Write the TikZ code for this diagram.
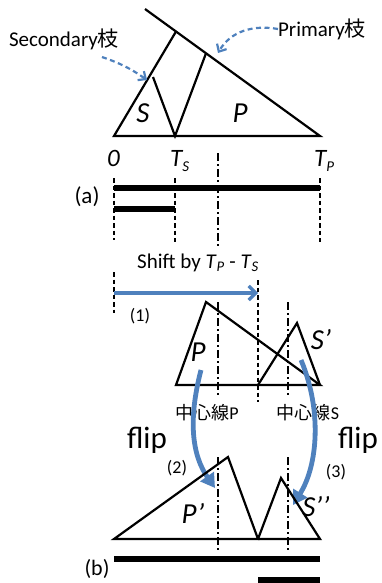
\documentclass[tikz,border=0pt]{standalone}
\usepackage{fontspec}
\setmainfont{Carlito}
\newfontfamily\jpfont{Noto Sans CJK JP}
\usetikzlibrary{positioning}
\usetikzlibrary{arrows.meta}
\definecolor{flipblue}{HTML}{4F81BD}
\tikzset{
  % outlines of the triangles
  tri/.style={draw=black, line width=2.2pt, line join=miter},
  % time bars
  bar/.style={draw=black, line width=6.5pt},
  % guide lines
  guide/.style={draw=black, line width=1.8pt, dash pattern=on 4.5pt off 3pt},
  centre/.style={draw=black, line width=1.8pt, dash pattern=on 8pt off 3pt on 2pt off 3pt},
  % blue arrows
  callout/.style={-{Straight Barb[length=6pt,width=11pt]}, draw=flipblue, line width=2.2pt,
    dash pattern=on 5pt off 3.5pt},
  shiftarrow/.style={-{Straight Barb[length=7pt,width=14pt]}, draw=flipblue, line width=3.2pt},
  fliparrow/.style={-{Triangle[length=14pt,width=16pt]}, draw=flipblue, line width=4.8pt},
  % text
  lbl/.style={font=\fontsize{21}{23}\selectfont, inner sep=0pt},
  big/.style={font=\fontsize{29}{31}\selectfont\itshape, inner sep=0pt},
  ax/.style={font=\fontsize{25}{26}\selectfont\itshape, inner sep=0pt, anchor=base west},
}
\newcommand{\tsub}[2]{#1\raisebox{-5pt}{\fontsize{15}{15}\selectfont #2}}

\begin{document}
\begin{tikzpicture}[x=1pt, y=-1pt]
  \useasboundingbox (0,0) rectangle (381,583);

  % (a) the tree before the shift
  \coordinate (o) at (114,136);
  \coordinate (ts) at (175,136);
  \coordinate (tp) at (320,136);
  \coordinate (top) at (145,9);
  \coordinate (lt) at (176,31.5);
  \coordinate (sa) at (153,77);
  \coordinate (pa) at (206,53.3);
  \draw[tri] (top) -- (tp) -- (o) -- (lt);
  \draw[tri] (sa) -- (ts) -- (pa);
  \node[big] (s) at (143,113) {S};
  \node[big] (p) at (240,113) {P};

  \node[lbl] (sec) at (64,39) {Secondary{\jpfont 枝}};
  \node[lbl] (pri) at (322,29) {Primary{\jpfont 枝}};
  \coordinate (sectip) at (147,80);
  \coordinate (pritip) at (218,53);
  \draw[callout] (102,57) to[bend left=8] (sectip);
  \draw[callout] (pri.west) to[out=170, in=60] (pritip);

  \node[ax] (t0) at (107,166) {0};
  \node[ax] (tsl) at (170,166) {\tsub{T}{S}};
  \node[ax] (tpl) at (314,166) {\tsub{T}{P}};
  \node[lbl, font=\fontsize{23}{25}\selectfont] (a) at (87,197) {(a)};

  \draw[guide] (114,178) -- (114,240);
  \draw[guide] (175,178) -- (175,242);
  \draw[guide] (320,178) -- (320,242);
  \draw[centre] (218,153) -- (218,247);
  \draw[bar] (114,188) -- (320,188);
  \draw[bar] (114,209) -- (175,209);

  % the shift
  \node[lbl] (shifttxt) at (198,263) {Shift by \textit{T}\textsubscript{\textit{P}} - \textit{T}\textsubscript{\textit{S}}};
  \draw[guide] (114,272) -- (114,313);
  \draw[guide] (258,280) -- (258,402);
  \draw[shiftarrow] (114,293) -- (258,293);
  \node[lbl, font=\fontsize{18}{20}\selectfont] (one) at (140,316) {(1)};

  % P and S' after the shift
  \draw[tri] (176,385) -- (206,302) -- (320,385) -- cycle;
  \draw[tri] (258,385) -- (297,323) -- (320,385);
  \draw[centre] (218,302) -- (218,397);
  \draw[centre] (288,302) -- (288,397);
  \node[big] (p2) at (198,352) {P};
  \node[big] (s2) at (321,340) {S\textquoteright};
  \node[lbl, font=\fontsize{18}{20}\selectfont] (cp) at (207,413) {{\jpfont 中心線}P};
  \node[lbl, font=\fontsize{18}{20}\selectfont] (cs) at (308,413) {{\jpfont 中心線}S};

  % the flips
  \node[lbl, font=\fontsize{31}{33}\selectfont] (flipl) at (147,440) {flip};
  \node[lbl, font=\fontsize{31}{33}\selectfont] (flipr) at (358,440) {flip};
  \node[lbl, font=\fontsize{18}{20}\selectfont] (two) at (177,468) {(2)};
  \node[lbl, font=\fontsize{18}{20}\selectfont] (three) at (336,472) {(3)};
  \coordinate (pf) at (215,488);
  \coordinate (sf) at (293,505);
  \draw[fliparrow] (201,370) .. controls (188,420) and (192,455) .. (pf);
  \draw[fliparrow] (301,360) .. controls (322,410) and (318,465) .. (sf);

  % (b) the tree after the flips
  \draw[tri] (114,539) -- (228,457) -- (258,539) -- cycle;
  \draw[tri] (258,539) -- (281,478) -- (320,539) -- (258,539);
  \draw[centre] (218,457) -- (218,550);
  \draw[centre] (288,457) -- (288,550);
  \node[big] (p3) at (193,513) {P\textquoteright};
  \node[big] (s3) at (316,507) {S\textquoteright\textquoteright};
  \draw[bar] (114,559) -- (320,559);
  \draw[bar] (258,580) -- (320,580);
  \node[lbl, font=\fontsize{22}{24}\selectfont] (b) at (97,569) {(b)};
\end{tikzpicture}
\end{document}
